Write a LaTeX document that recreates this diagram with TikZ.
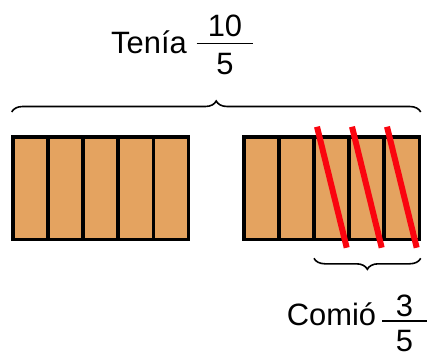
\documentclass[tikz,border=0pt]{standalone}
\usepackage{fontspec}
\setmainfont{Liberation Sans}
\usepackage{xcolor}
\definecolor{barorange}{RGB}{228,163,96}
\definecolor{cutred}{RGB}{250,5,15}
\usepackage{tikz}
\usetikzlibrary{decorations.pathreplacing}

\begin{document}
\begin{tikzpicture}[x=1bp, y=-1bp,
    piece/.style={draw=black, line width=3.6bp, fill=barorange},
    cutline/.style={draw=cutred, line width=6bp},
    bracket/.style={draw=black, line width=1.6bp, decorate, decoration={brace, amplitude=11bp}},
    lbl/.style={anchor=base, inner sep=0pt, font=\fontsize{31}{37}\selectfont},
    fracbar/.style={draw=black, line width=1.5bp}]
        \useasboundingbox (0,0) rectangle (430,360);

        % whole bars, five pieces each
        \foreach \x in {12.9, 243.8} {
            \foreach \k in {0,...,4}
                \draw[piece] ({\x+35.1*\k},136.7) rectangle ({\x+35.1*(\k+1)},239.3);
        }

        % eaten pieces
        \foreach \k in {0,1,2}
            \draw[cutline] ({317+35*\k},126.7) -- ({346.7+35*\k},247.7);

        % braces
        \coordinate (tl) at (11.7,112);
        \coordinate (tr) at (420.7,112);
        \draw[bracket] (tl) -- (tr);
        \coordinate (bl) at (314,258.3);
        \coordinate (br) at (420.7,258.3);
        \draw[bracket] (br) -- (bl);

        % labels
        \node (tenia) [lbl] at (149,53) {Tenía};
        \node (tnum) [lbl] at (225,36.7) {10};
        \node (tden) [lbl] at (225,74) {5};
        \draw[fracbar] (196.7,43.3) -- (253.3,43.3);

        \node (comio) [lbl] at (331.5,325) {Comió};
        \node (cnum) [lbl] at (404.5,316.5) {3};
        \node (cden) [lbl] at (404.5,351.5) {5};
        \draw[fracbar] (382,321) -- (427,321);
      \end{tikzpicture}
\end{document}
